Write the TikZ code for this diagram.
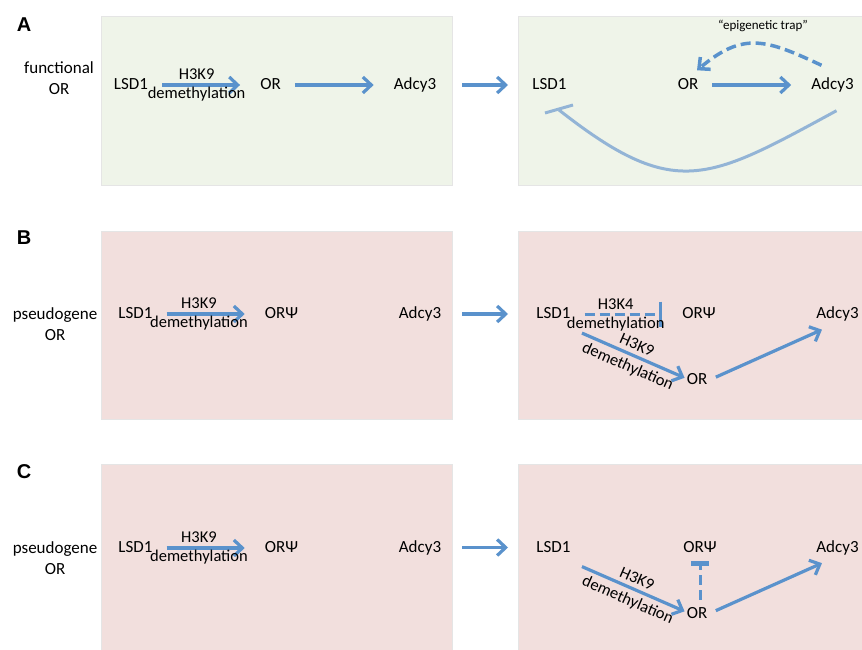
\documentclass[tikz,border=0pt]{standalone}
\usepackage{fontspec}
\setmainfont{Carlito}
\newfontfamily\letterfont{Liberation Sans}
\usetikzlibrary{arrows.meta}
\definecolor{arrowblue}{HTML}{5A92CC}
\definecolor{curveblue}{HTML}{93B4D6}
\definecolor{greenbg}{HTML}{EFF4E9}
\definecolor{pinkbg}{HTML}{F2DFDD}
\tikzset{
  panel/.style={draw=black!10,line width=0.8pt,inner sep=0pt,outer sep=0pt},
  leftpanel/.style={panel,minimum width=351pt},
  rightpanel/.style={panel,minimum width=352pt},
  gene/.style={font=\fontsize{17}{20}\selectfont,inner sep=2pt,text height=11pt,text depth=2pt},
  side/.style={font=\fontsize{17}{21}\selectfont,align=center,inner sep=0pt},
  lab/.style={font=\fontsize{16.5}{18}\selectfont,inner sep=1pt},
  letter/.style={font=\letterfont\bfseries\fontsize{20}{24}\selectfont,inner sep=0pt},
  act/.style={->,draw=arrowblue,line width=3.2pt},
  flat/.style={act,shorten <=12pt,shorten >=18pt},
  hop/.style={act,shorten <=10pt,shorten >=10pt},
  dashline/.style={draw=arrowblue,line width=3.5pt,dash pattern=on 10pt off 5pt}
}

\begin{document}
\begin{tikzpicture}[x=1pt,y=-1pt,>={Straight Barb[length=8.5pt,width=16pt]}]
  \useasboundingbox (0,0) rectangle (862,650);
  % panels
  \node[leftpanel,fill=greenbg,minimum height=169pt] (pA1) at (276.5,100.5) {};
  \node[rightpanel,fill=greenbg,minimum height=169pt] (pA2) at (694,100.5) {};
  \node[leftpanel,fill=pinkbg,minimum height=188pt] (pB1) at (276.5,325) {};
  \node[rightpanel,fill=pinkbg,minimum height=188pt] (pB2) at (694,325) {};
  \node[leftpanel,fill=pinkbg,minimum height=188pt] (pC1) at (276.5,558) {};
  \node[rightpanel,fill=pinkbg,minimum height=188pt] (pC2) at (694,558) {};

  % A
  \node[letter] (letA) at (24,25) {A};
  \node[side] (typeA) at (59,78.5) {functional\\OR};
  \node[gene] (lsdA1) at (131,85) {LSD1};
  \node[gene] (orA1) at (270.5,85) {OR};
  \node[gene] (adcyA1) at (415,85) {Adcy3};
  \draw[flat] (lsdA1) -- node[lab,pos=.43,yshift=11pt] {H3K9}
    node[lab,pos=.43,yshift=-9pt] {demethylation} (orA1);
  \draw[flat] (orA1) -- (adcyA1);
  \node[gene] (lsdA2) at (549.5,85) {LSD1};
  \node[gene] (orA2) at (688,85) {OR};
  \node[gene] (adcyA2) at (832.5,85) {Adcy3};
  \node[font=\fontsize{13}{15}\selectfont] (trapA) at (763,26) {“epigenetic trap”};
  \draw[hop] (pA1.east |- lsdA2) -- (pA2.west |- lsdA2);
  \draw[flat] (orA2) -- (adcyA2);
  \draw[->,dashline] ([shift={(-11,-11)}]adcyA2.north) to[out=155,in=40,looseness=1.25]
    ([shift={(9,-6)}]orA2.north);
  \coordinate (barA) at (559,110);
  \draw[draw=curveblue,line width=3pt] ([shift={(4,17)}]adcyA2.south)
    .. controls (707,181) and (675,201) .. (barA);
  \draw[draw=curveblue,line width=3pt] ([shift={(-14,3)}]barA) -- ([shift={(14,-5)}]barA);

  % B
  \node[letter] (letB) at (24,238) {B};
  \node[side] (typeB) at (55,324.5) {pseudogene\\OR};
  \node[gene] (lsdB1) at (135.5,314) {LSD1};
  \node[gene] (orpB1) at (281.5,314) {ORΨ};
  \node[gene] (adcyB1) at (420,314) {Adcy3};
  \draw[flat] (lsdB1) -- node[lab,pos=.41,yshift=11pt] {H3K9}
    node[lab,pos=.41,yshift=-9pt] {demethylation} (orpB1);
  \node[gene] (lsdB2) at (553.5,314) {LSD1};
  \node[gene] (orpB2) at (699,314) {ORΨ};
  \node[gene] (orB2) at (697,380) {OR};
  \node[gene] (adcyB2) at (837.5,314) {Adcy3};
  \draw[hop] (pB1.east |- lsdB2) -- (pB2.west |- lsdB2);
  \draw[dashline,line width=3pt,-{Bar[width=25pt]},shorten <=12pt,shorten >=18pt] (lsdB2) --
    node[lab,pos=.4,yshift=10pt] {H3K4}
    node[lab,pos=.4,yshift=-10pt] {demethylation} (orpB2);
  \draw[act,shorten <=26pt] (lsdB2.-62) --
    node[lab,sloped,above=3pt,pos=.59] {H3K9}
    node[lab,sloped,below=3pt,pos=.59] {demethylation} (orB2.170);
  \draw[act,shorten <=7pt,shorten >=17pt] (orB2.east) -- (adcyB2.south);

  % C
  \node[letter] (letC) at (24,471.5) {C};
  \node[side] (typeC) at (55,558.5) {pseudogene\\OR};
  \node[gene] (lsdC1) at (135.5,548) {LSD1};
  \node[gene] (orpC1) at (281.5,548) {ORΨ};
  \node[gene] (adcyC1) at (420,548) {Adcy3};
  \draw[flat] (lsdC1) -- node[lab,pos=.41,yshift=11pt] {H3K9}
    node[lab,pos=.41,yshift=-9pt] {demethylation} (orpC1);
  \node[gene] (lsdC2) at (553.5,547.5) {LSD1};
  \node[gene] (orpC2) at (700,547.5) {ORΨ};
  \node[gene] (orC2) at (697,613.5) {OR};
  \node[gene] (adcyC2) at (837.5,547.5) {Adcy3};
  \draw[hop] (pC1.east |- lsdC2) -- (pC2.west |- lsdC2);
  \draw[act,shorten <=26pt] (lsdC2.-62) --
    node[lab,sloped,above=3pt,pos=.59] {H3K9}
    node[lab,sloped,below=3pt,pos=.59] {demethylation} (orC2.170);
  \draw[act,shorten <=7pt,shorten >=17pt] (orC2.east) -- (adcyC2.south);
  \draw[dashline,line width=3pt,-{Bar[width=18pt,line width=5pt]},shorten <=5pt,shorten >=5pt]
    (orC2.north -| orpC2.south) -- (orpC2.south);
\end{tikzpicture}
\end{document}
